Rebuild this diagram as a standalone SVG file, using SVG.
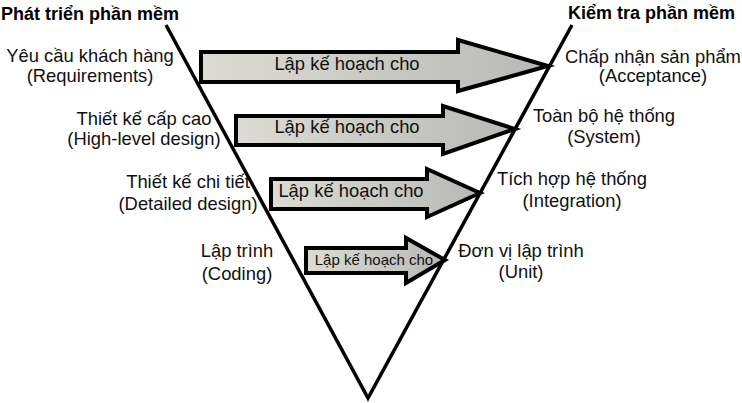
<svg xmlns="http://www.w3.org/2000/svg" width="742" height="403" viewBox="0 0 742 403">
<defs>
<linearGradient id="g" x1="0" y1="0" x2="1" y2="0">
<stop offset="0" stop-color="#dcdcd4"/>
<stop offset="1" stop-color="#b8b8b6"/>
</linearGradient>
<style>
.t{font-family:"Liberation Sans",Arial,sans-serif;font-size:18.4px;fill:#111;text-anchor:middle}
.h{font-family:"Liberation Sans",Arial,sans-serif;font-size:18px;font-weight:bold;fill:#000}
.a{fill:url(#g);stroke:#000;stroke-width:4;stroke-linejoin:miter}
.v{fill:none;stroke:#000;stroke-width:3.5;stroke-linejoin:miter}
</style>
</defs>
<rect width="742" height="403" fill="#fff"/>
<g id="connectors">
<polyline class="v" points="166,25 368,398 572,25"/>
</g>
<g id="titles">
<text class="h" x="1" y="20">Phát triển phần mềm</text>
<text class="h" x="568" y="19">Kiểm tra phần mềm</text>
</g>
<g id="req"><text class="t" x="90" y="62">Yêu cầu khách hàng</text><text class="t" x="90" y="82">(Requirements)</text></g>
<g id="hld"><text class="t" x="144" y="125">Thiết kế cấp cao</text><text class="t" x="144" y="145">(High-level design)</text></g>
<g id="dd"><text class="t" x="188" y="188">Thiết kế chi tiết</text><text class="t" x="188" y="210">(Detailed design)</text></g>
<g id="code"><text class="t" x="237" y="257">Lập trình</text><text class="t" x="237" y="280">(Coding)</text></g>
<g id="acc"><text class="t" x="653" y="63">Chấp nhận sản phẩm</text><text class="t" x="653" y="82">(Acceptance)</text></g>
<g id="sys"><text class="t" x="604" y="122">Toàn bộ hệ thống</text><text class="t" x="604" y="143">(System)</text></g>
<g id="int"><text class="t" x="572" y="185">Tích hợp hệ thống</text><text class="t" x="572" y="207">(Integration)</text></g>
<g id="unit"><text class="t" x="521" y="257">Đơn vị lập trình</text><text class="t" x="521" y="278">(Unit)</text></g>
<g id="arrow1"><polygon class="a" points="201,52 458,52 458,40 548,66 458,91 458,82 201,82"/><text class="t" x="347" y="70">Lập kế hoạch cho</text></g>
<g id="arrow2"><polygon class="a" points="236,116 443,116 443,106 515,129 443,154 443,145 236,145"/><text class="t" x="347" y="133">Lập kế hoạch cho</text></g>
<g id="arrow3"><polygon class="a" points="271,179 427,179 427,169 480,193 427,217 427,209 271,209"/><text class="t" x="351" y="197">Lập kế hoạch cho</text></g>
<g id="arrow4"><polygon class="a" points="306,248 406,248 406,238 445,260 406,283 406,273 306,273"/><text class="t" x="374" y="265" style="font-size:15px">Lập kế hoạch cho</text></g>
</svg>
